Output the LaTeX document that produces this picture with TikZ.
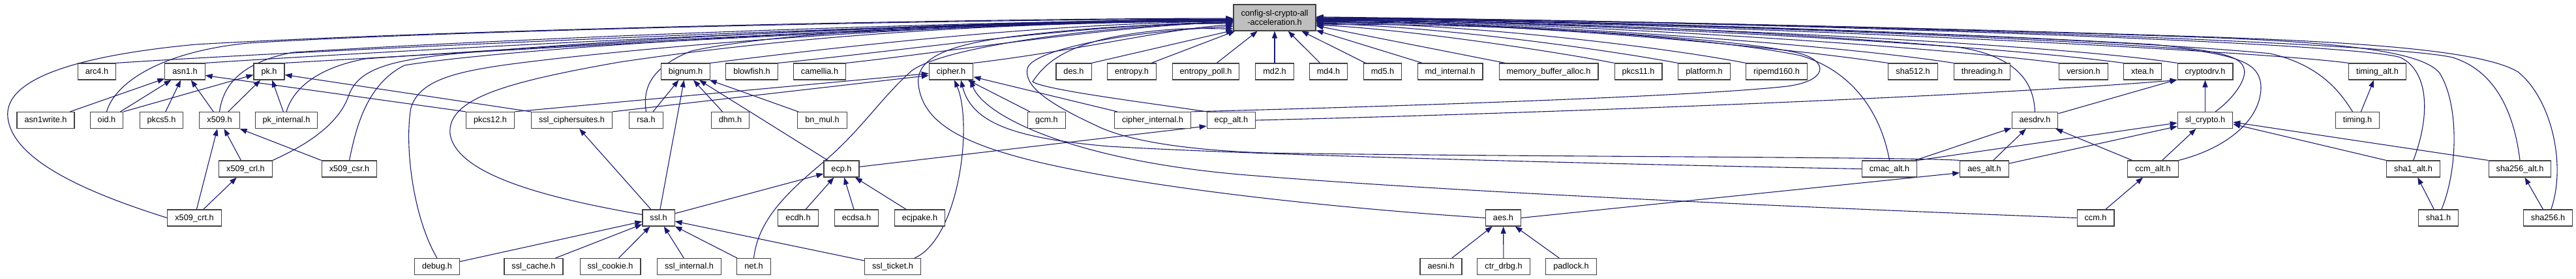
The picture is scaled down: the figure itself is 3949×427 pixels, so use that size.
\documentclass[tikz,border=0pt]{standalone}
\usepackage{fontspec}
\setmainfont{Liberation Sans}
\usetikzlibrary{arrows.meta,backgrounds}
\definecolor{EdgeBlue}{HTML}{191970}
\definecolor{BoxLine}{HTML}{404040}
\definecolor{RootFill}{HTML}{BFBFBF}

\begin{document}
\begin{tikzpicture}[x=1pt,y=-1pt,
  hdr/.style={draw=BoxLine, fill=white, line width=1.1pt, minimum height=25pt, inner xsep=11.5pt, inner ysep=0pt, text height=11pt, text depth=3pt, font=\fontsize{12.7pt}{14.5pt}\selectfont},
  rootbox/.style={draw=BoxLine, fill=RootFill, line width=1.1pt, minimum height=40pt, inner xsep=11.5pt, inner ysep=0pt, align=center, font=\fontsize{12.7pt}{14pt}\selectfont},
  incl/.style={draw=EdgeBlue, line width=1.1pt, -{Triangle[length=11pt,width=8pt]}}]
  \useasboundingbox (0,0) rectangle (3949,427);
  \node[rootbox] (cfg) at (1954,27) {config-sl-crypto-all\\-acceleration.h};
  % row 1
  \node[hdr] (arc4) at (148.5,109.5) {arc4.h};
  \node[hdr] (asn1) at (283.5,109.5) {asn1.h};
  \node[hdr] (pk) at (412.5,109.5) {pk.h};
  \node[hdr] (bignum) at (1051,109.5) {bignum.h};
  \node[hdr] (blowfish) at (1152.5,109.5) {blowfish.h};
  \node[hdr] (camellia) at (1256.5,109.5) {camellia.h};
  \node[hdr] (cipher) at (1458,109.5) {cipher.h};
  \node[hdr] (des) at (1646,109.5) {des.h};
  \node[hdr] (entropy) at (1735,109.5) {entropy.h};
  \node[hdr] (entropypoll) at (1848.5,109.5) {entropy\_poll.h};
  \node[hdr] (md2) at (1954,109.5) {md2.h};
  \node[hdr] (md4) at (2036.5,109.5) {md4.h};
  \node[hdr] (md5) at (2119.5,109.5) {md5.h};
  \node[hdr] (mdinternal) at (2223,109.5) {md\_internal.h};
  \node[hdr] (mba) at (2374,109.5) {memory\_buffer\_alloc.h};
  \node[hdr] (pkcs11) at (2511.5,109.5) {pkcs11.h};
  \node[hdr] (platform) at (2612.5,109.5) {platform.h};
  \node[hdr] (ripemd) at (2723.5,109.5) {ripemd160.h};
  \node[hdr] (sha512) at (2932.5,109.5) {sha512.h};
  \node[hdr] (threading) at (3038.5,109.5) {threading.h};
  \node[hdr] (version) at (3194,109.5) {version.h};
  \node[hdr] (xtea) at (3284.5,109.5) {xtea.h};
  \node[hdr] (cryptodrv) at (3380.5,109.5) {cryptodrv.h};
  \node[hdr] (timingalt) at (3644.5,109.5) {timing\_alt.h};
  % row 2
  \node[hdr] (asn1write) at (70,184) {asn1write.h};
  \node[hdr] (oid) at (163.5,184) {oid.h};
  \node[hdr] (pkcs5) at (247.5,184) {pkcs5.h};
  \node[hdr] (x509) at (336.5,184) {x509.h};
  \node[hdr] (pkinternal) at (439,184) {pk\_internal.h};
  \node[hdr] (pkcs12) at (751.5,184) {pkcs12.h};
  \node[hdr] (ciphersuites) at (876.5,184) {ssl\_ciphersuites.h};
  \node[hdr] (rsa) at (990.5,184) {rsa.h};
  \node[hdr] (dhm) at (1119.5,184) {dhm.h};
  \node[hdr] (bnmul) at (1260.5,184) {bn\_mul.h};
  \node[hdr] (gcm) at (1604.5,184) {gcm.h};
  \node[hdr] (cipherint) at (1767,184) {cipher\_internal.h};
  \node[hdr] (ecpalt) at (1887.5,184) {ecp\_alt.h};
  \node[hdr] (aesdrv) at (3119.5,184) {aesdrv.h};
  \node[hdr] (slcrypto) at (3380.5,184) {sl\_crypto.h};
  \node[hdr] (timing) at (3614,184) {timing.h};
  % row 3
  \node[hdr] (x509crl) at (376.5,258.5) {x509\_crl.h};
  \node[hdr] (x509csr) at (535.5,258.5) {x509\_csr.h};
  \node[hdr] (ecp) at (1290,258.5) {ecp.h};
  \node[hdr] (cmacalt) at (2896.5,258.5) {cmac\_alt.h};
  \node[hdr] (aesalt) at (3042,258.5) {aes\_alt.h};
  \node[hdr] (ccmalt) at (3300.5,258.5) {ccm\_alt.h};
  \node[hdr] (sha1alt) at (3699.5,258.5) {sha1\_alt.h};
  \node[hdr] (sha256alt) at (3863,258.5) {sha256\_alt.h};
  % row 4
  \node[hdr] (x509crt) at (298,333.5) {x509\_crt.h};
  \node[hdr] (ssl) at (1009.5,333.5) {ssl.h};
  \node[hdr] (ecdh) at (1223.5,333.5) {ecdh.h};
  \node[hdr] (ecdsa) at (1313,333.5) {ecdsa.h};
  \node[hdr] (ecjpake) at (1410,333.5) {ecjpake.h};
  \node[hdr] (aes) at (2304.5,333.5) {aes.h};
  \node[hdr] (ccm) at (3212.5,333.5) {ccm.h};
  \node[hdr] (sha1) at (3738,333.5) {sha1.h};
  \node[hdr] (sha256) at (3906,333.5) {sha256.h};
  % row 5
  \node[hdr] (debug) at (670,408) {debug.h};
  \node[hdr] (sslcache) at (818,408) {ssl\_cache.h};
  \node[hdr] (sslcookie) at (935.5,408) {ssl\_cookie.h};
  \node[hdr] (sslinternal) at (1056.5,408) {ssl\_internal.h};
  \node[hdr] (net) at (1155.5,408) {net.h};
  \node[hdr] (sslticket) at (1368.5,408) {ssl\_ticket.h};
  \node[hdr] (aesni) at (2209,408) {aesni.h};
  \node[hdr] (ctrdrbg) at (2305,408) {ctr\_drbg.h};
  \node[hdr] (padlock) at (2408.5,408) {padlock.h};

  \begin{scope}[on background layer]
  % into the config header, from the left
  \draw[incl] (arc4.north east) .. controls (500,75) and (1500,31) .. (cfg.183);
  \draw[incl] (asn1.north east) .. controls (650,74) and (1500,31) .. (cfg.183);
  \draw[incl] (pk.north east) .. controls (720,80) and (1500,33) .. (cfg.184);
  \draw[incl] (oid.north) .. controls (175,130) and (240,80) .. (380,66) .. controls (700,46) and (1500,29) .. (cfg.182);
  \draw[incl] (x509.north) .. controls (342,130) and (370,95) .. (450,80) .. controls (800,58) and (1500,31) .. (cfg.183);
  \draw[incl] (pkinternal.north) .. controls (448,140) and (480,105) .. (560,90) .. controls (900,66) and (1500,33) .. (cfg.184);
  \draw[incl] (x509crl.north east) .. controls (470,222) and (520,190) .. (535,145) .. controls (550,105) and (600,92) .. (700,82) .. controls (1000,56) and (1500,32) .. (cfg.182);
  \draw[incl] (x509csr.north) .. controls (545,200) and (560,130) .. (620,100) .. controls (800,70) and (1500,32) .. (cfg.182);
  \draw[incl] (x509crt.west) .. controls (150,300) and (20,250) .. (12,180) .. controls (5,120) and (120,85) .. (300,68) .. controls (700,45) and (1500,28) .. (cfg.181);
  \draw[incl] (debug.north) .. controls (632,330) and (620,220) .. (630,165) .. controls (645,115) and (720,105) .. (850,90) .. controls (1100,62) and (1500,33) .. (cfg.184);
  \draw[incl] ([yshift=5pt]ssl.west) .. controls (850,305) and (700,270) .. (690,205) .. controls (685,150) and (780,125) .. (950,95) .. controls (1200,58) and (1500,34) .. (cfg.185);
  \draw[incl] (rsa.north) .. controls (986,140) and (992,105) .. (1060,78) .. controls (1200,48) and (1500,34) .. (cfg.185);
  \draw[incl] (bignum.north east) .. controls (1300,70) and (1600,36) .. (cfg.185);
  \draw[incl] (blowfish.north east) .. controls (1400,76) and (1650,38) .. (cfg.186);
  \draw[incl] (camellia.north east) .. controls (1450,80) and (1700,40) .. (cfg.186);
  \draw[incl] (net.north) .. controls (1162,340) and (1200,300) .. (1260,250) .. controls (1320,200) and (1350,150) .. (1398,108) .. controls (1450,70) and (1700,38) .. (cfg.187);
  \draw[incl] (cipher.north east) .. controls (1650,78) and (1800,42) .. (cfg.190);
  \draw[incl] (aes.west) .. controls (2100,322) and (1800,295) .. (1600,250) .. controls (1480,222) and (1415,190) .. (1408,130) .. controls (1403,90) and (1450,68) .. (1560,55) .. controls (1700,38) and (1820,36) .. (cfg.188);
  \draw[incl] (aesalt.north west) .. controls (2930,240) and (2300,240) .. (1940,234) .. controls (1800,229) and (1720,212) .. (1680,192) .. controls (1600,155) and (1570,130) .. (1575,105) .. controls (1580,80) and (1700,50) .. (cfg.192);
  \draw[incl] (ecpalt.north west) .. controls (1780,160) and (1600,138) .. (1583,125) .. controls (1600,100) and (1625,75) .. (1700,58) .. controls (1790,40) and (1850,44) .. (cfg.195);
  \draw[incl] (des.north east) -- (cfg.197);
  \draw[incl] ([xshift=30pt]entropy.north) -- ([xshift=3pt]cfg.south west);
  \draw[incl] (entropypoll) -- (cfg);
  \draw[incl] (md2) -- (cfg);
  \draw[incl] (md4) -- (cfg);
  \draw[incl] (md5) -- (cfg);
  \draw[incl] (mdinternal) -- (cfg);
  \draw[incl] (mba) -- (cfg);
  % into the config header, from the right
  \draw[incl] (pkcs11.north west) .. controls (2380,78) and (2150,44) .. (cfg.350);
  \draw[incl] (platform.north west) .. controls (2450,74) and (2200,40) .. (cfg.352);
  \draw[incl] (ripemd.north west) .. controls (2550,72) and (2250,36) .. (cfg.353);
  \draw[incl] (sha512.north west) .. controls (2700,68) and (2300,33) .. (cfg.354);
  \draw[incl] (threading.north west) .. controls (2800,66) and (2300,32) .. (cfg.355);
  \draw[incl] (version.north west) .. controls (2900,64) and (2300,31) .. (cfg.356);
  \draw[incl] (xtea.north west) .. controls (3000,62) and (2300,30) .. (cfg.357);
  \draw[incl] (cryptodrv.north west) .. controls (3100,60) and (2300,30) .. (cfg.357);
  \draw[incl] (timingalt.north west) .. controls (3450,76) and (2500,30) .. (cfg.358);
  \draw[incl] (cmacalt.north) .. controls (2885,180) and (2845,110) .. (2760,85) .. controls (2600,52) and (2200,31) .. (cfg.352);
  \draw[incl] (cipherint.north east) .. controls (2100,164) and (2600,148) .. (2740,132) .. controls (2800,124) and (2805,95) .. (2760,82) .. controls (2650,55) and (2250,34) .. (cfg.350);
  \draw[incl] (aesdrv.north) .. controls (3118,125) and (3090,85) .. (3000,72) .. controls (2700,46) and (2300,30) .. (cfg.356);
  \draw[incl] (slcrypto.40) .. controls (3425,150) and (3445,120) .. (3440,105) .. controls (3435,85) and (3400,78) .. (3300,68) .. controls (2900,45) and (2300,28) .. (cfg.358);
  \draw[incl] (ccmalt.north east) .. controls (3420,225) and (3465,180) .. (3466,135) .. controls (3466,100) and (3440,87) .. (3350,75) .. controls (3000,50) and (2300,28) .. (cfg.358);
  \draw[incl] (timing.120) .. controls (3590,145) and (3560,100) .. (3480,82) .. controls (3200,55) and (2400,30) .. (cfg.359);
  \draw[incl] (sha1alt.north) .. controls (3725,180) and (3725,110) .. (3680,88) .. controls (3600,62) and (2500,28) .. (cfg.359);
  \draw[incl] (sha1.70) .. controls (3768,260) and (3770,160) .. (3740,112) .. controls (3715,80) and (3600,66) .. (3400,58) .. controls (2900,40) and (2300,29) .. (cfg.0);
  \draw[incl] (sha256alt.north) .. controls (3855,180) and (3830,110) .. (3760,88) .. controls (3650,62) and (2600,30) .. (cfg.0);
  \draw[incl] (sha256.70) .. controls (3935,250) and (3910,150) .. (3860,110) .. controls (3810,80) and (3650,66) .. (3400,57) .. controls (2900,40) and (2300,29) .. (cfg.1);
  % asn1, pk, x509
  \draw[incl] (asn1write) -- (asn1);
  \draw[incl] (oid) -- (asn1);
  \draw[incl] (pkcs5) -- (asn1);
  \draw[incl] (x509) -- (asn1);
  \draw[incl] (pkcs12.north west) -- ([yshift=-6pt]asn1.east);
  \draw[incl] (oid.north east) -- ([yshift=-5pt]pk.west);
  \draw[incl] (x509) -- (pk);
  \draw[incl] (pkinternal) -- (pk);
  \draw[incl] (ciphersuites.north west) -- ([yshift=-5pt]pk.east);
  \draw[incl] (x509crt) -- (x509);
  \draw[incl] (x509crl) -- (x509);
  \draw[incl] (x509csr.north west) -- (x509.south east);
  \draw[incl] (x509crt) -- (x509crl);
  % cipher
  \draw[incl] (pkcs12.north east) -- ([yshift=-3pt]cipher.west);
  \draw[incl] (ciphersuites.north east) -- ([yshift=-6pt]cipher.west);
  \draw[incl] (gcm) -- (cipher);
  \draw[incl] (cipherint) -- (cipher);
  \draw[incl] ([xshift=-10pt]sslticket.north east) .. controls (1470,365) and (1492,190) .. ([xshift=5pt]cipher.south);
  \draw[incl] (cmacalt.west) .. controls (2400,250) and (1900,236) .. (1700,224) .. controls (1560,212) and (1490,190) .. ([xshift=15pt]cipher.south);
  \draw[incl] (ccm.west) .. controls (2700,315) and (2200,292) .. (1900,267) .. controls (1650,245) and (1510,180) .. ([xshift=-5pt]cipher.south east);
  % bignum, ecp, ssl
  \draw[incl] (rsa) -- (bignum);
  \draw[incl] (ssl) -- (bignum);
  \draw[incl] (dhm) -- (bignum);
  \draw[incl] (ecp) -- (bignum);
  \draw[incl] (bnmul) -- (bignum);
  \draw[incl] (ssl) -- (ciphersuites);
  \draw[incl] (ssl) -- (ecp);
  \draw[incl] (ecdh) -- (ecp);
  \draw[incl] (ecdsa) -- (ecp);
  \draw[incl] (ecjpake) -- (ecp);
  \draw[incl] (ecp) -- ([yshift=-9pt]ecpalt.west);
  \draw[incl] (ecpalt.east) .. controls (2300,175) and (3000,150) .. (cryptodrv.south west);
  \draw[incl] (debug) -- (ssl);
  \draw[incl] (sslcache) -- (ssl);
  \draw[incl] (sslcookie) -- (ssl);
  \draw[incl] (sslinternal) -- (ssl);
  \draw[incl] (net) -- (ssl);
  \draw[incl] (sslticket) -- (ssl);
  % aes and the sl drivers
  \draw[incl] (aesni) -- (aes);
  \draw[incl] (ctrdrbg) -- (aes);
  \draw[incl] (padlock) -- (aes);
  \draw[incl] (aes.east) -- ([yshift=-6pt]aesalt.west);
  \draw[incl] (aesdrv) -- (cryptodrv);
  \draw[incl] (slcrypto) -- (cryptodrv);
  \draw[incl] (cmacalt) -- (aesdrv);
  \draw[incl] (aesalt) -- (aesdrv);
  \draw[incl] (ccmalt) -- (aesdrv);
  \draw[incl] (cmacalt.north east) -- ([yshift=-4pt]slcrypto.west);
  \draw[incl] (aesalt) -- (slcrypto);
  \draw[incl] (ccmalt) -- (slcrypto);
  \draw[incl] (ccm) -- (ccmalt);
  \draw[incl] (sha1alt.north west) -- ([yshift=-6pt]slcrypto.east);
  \draw[incl] (sha256alt.north west) -- ([yshift=-3pt]slcrypto.east);
  \draw[incl] (timing) -- (timingalt);
  \draw[incl] (sha1) -- (sha1alt);
  \draw[incl] (sha256) -- (sha256alt);
  \end{scope}
\end{tikzpicture}
\end{document}
